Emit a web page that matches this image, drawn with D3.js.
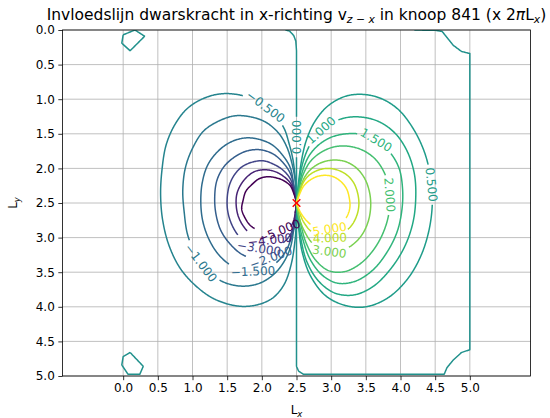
<!DOCTYPE html>
<html>
<head>
<meta charset="utf-8">
<script src="https://cdn.jsdelivr.net/npm/d3@7/dist/d3.min.js"></script>
<style>
body { margin: 0; background: #fff; }
text { font-family: "DejaVu Sans", sans-serif; }
</style>
</head>
<body>
<svg id="chart" width="550" height="418"></svg>
<script>
// contour levels and ticks
var levels = [-5, -4, -3, -2, -1.5, -1, -0.5, 0, 0.5, 1, 1.5, 2, 3, 4, 5];
var xTicks = [0, 0.5, 1, 1.5, 2, 2.5, 3, 3.5, 4, 4.5, 5];
var yTicks = [0, 0.5, 1, 1.5, 2, 2.5, 3, 3.5, 4, 4.5, 5];
var loadPoint = [2.5, 2.5];

// contour lines, [Lx, Ly]
var lineM5 = [[2.5,2.49],[2.46,2.36],[2.41,2.25],[2.32,2.18],[2.22,2.14],[2.09,2.12],[1.96,2.15],[1.86,2.23],[1.77,2.33],[1.73,2.46],[1.71,2.59],[1.76,2.72],[1.84,2.83],[1.97,2.90],[2.12,2.93],[2.26,2.90],[2.38,2.83],[2.46,2.72],[2.5,2.51]];
var lineM4 = [[2.5,2.49],[2.46,2.33],[2.41,2.21],[2.32,2.12],[2.20,2.05],[2.06,2.02],[1.91,2.04],[1.80,2.11],[1.70,2.23],[1.64,2.37],[1.63,2.53],[1.66,2.69],[1.73,2.83],[1.84,2.95],[1.99,3.02],[2.15,3.03],[2.29,2.98],[2.39,2.88],[2.46,2.75],[2.5,2.51]];
var lineM3 = [[2.5,2.49],[2.46,2.30],[2.41,2.15],[2.30,2.02],[2.17,1.94],[2.02,1.89],[1.86,1.91],[1.71,1.98],[1.60,2.10],[1.53,2.25],[1.50,2.44],[1.51,2.63],[1.57,2.82],[1.67,2.98],[1.81,3.09],[1.99,3.16],[2.16,3.15],[2.30,3.08],[2.41,2.96],[2.46,2.80],[2.5,2.51]];
var lineM2 = [[2.5,2.49],[2.46,2.25],[2.41,2.07],[2.30,1.91],[2.16,1.79],[1.97,1.73],[1.78,1.75],[1.60,1.84],[1.45,1.98],[1.35,2.18],[1.32,2.43],[1.34,2.67],[1.41,2.90],[1.54,3.09],[1.71,3.24],[1.91,3.31],[2.12,3.29],[2.28,3.21],[2.39,3.06],[2.46,2.86],[2.5,2.51]];
var lineM15 = [[2.5,2.49],[2.46,2.23],[2.41,1.99],[2.30,1.81],[2.15,1.66],[1.96,1.58],[1.76,1.56],[1.55,1.62],[1.37,1.75],[1.22,1.95],[1.14,2.21],[1.12,2.50],[1.15,2.77],[1.24,3.03],[1.38,3.25],[1.57,3.41],[1.80,3.48],[2.02,3.47],[2.20,3.37],[2.35,3.19],[2.43,2.98],[2.48,2.75],[2.5,2.51]];
var lineM1 = [[2.5,2.49],[2.48,2.17],[2.43,1.91],[2.36,1.69],[2.25,1.50],[2.07,1.34],[1.86,1.26],[1.61,1.24],[1.37,1.32],[1.16,1.46],[1.01,1.69],[0.90,1.98],[0.86,2.31],[0.88,2.63],[0.93,2.96],[1.05,3.25],[1.21,3.47],[1.42,3.63],[1.68,3.70],[1.94,3.67],[2.15,3.55],[2.30,3.38],[2.41,3.15],[2.46,2.89],[2.5,2.63],[2.5,2.51]];
var lineM05 = [[2.5,2.49],[2.49,2.24],[2.45,1.88],[2.39,1.63],[2.32,1.42],[2.15,1.18],[1.94,1.04],[1.73,0.95],[1.44,0.92],[1.18,0.98],[0.93,1.13],[0.75,1.36],[0.62,1.66],[0.56,2.02],[0.54,2.38],[0.57,2.75],[0.66,3.11],[0.82,3.44],[1.05,3.70],[1.32,3.89],[1.66,3.99],[1.94,3.97],[2.16,3.87],[2.32,3.68],[2.42,3.40],[2.48,3.03],[2.5,2.67],[2.5,2.51]];
var lineP05 = [[2.5,2.49],[2.53,2.2],[2.57,1.9],[2.64,1.6],[2.76,1.33],[2.95,1.10],[3.2,0.96],[3.45,0.93],[3.72,0.99],[3.97,1.15],[4.18,1.42],[4.34,1.75],[4.43,2.1],[4.46,2.45],[4.42,2.85],[4.30,3.25],[4.10,3.6],[3.82,3.87],[3.50,4.0],[3.20,3.98],[2.92,3.84],[2.70,3.55],[2.58,3.2],[2.53,2.85],[2.5,2.51]];
var lineP1 = [[2.5,2.49],[2.53,2.25],[2.57,2.0],[2.65,1.75],[2.78,1.52],[2.96,1.37],[3.2,1.27],[3.45,1.26],[3.7,1.33],[3.93,1.5],[4.1,1.76],[4.2,2.08],[4.22,2.42],[4.18,2.78],[4.06,3.13],[3.86,3.45],[3.6,3.71],[3.32,3.83],[3.05,3.8],[2.82,3.63],[2.65,3.35],[2.56,3.0],[2.52,2.7],[2.5,2.51]];
var lineP15 = [[2.5,2.49],[2.54,2.25],[2.59,2.03],[2.68,1.82],[2.82,1.66],[3.0,1.55],[3.22,1.50],[3.45,1.51],[3.67,1.6],[3.85,1.77],[3.98,2.0],[4.03,2.3],[4.02,2.6],[3.95,2.92],[3.80,3.22],[3.60,3.47],[3.35,3.63],[3.10,3.66],[2.88,3.55],[2.70,3.32],[2.59,3.02],[2.53,2.75],[2.5,2.51]];
var lineP2 = [[2.5,2.49],[2.54,2.28],[2.60,2.08],[2.70,1.9],[2.85,1.77],[3.04,1.69],[3.25,1.68],[3.46,1.74],[3.64,1.87],[3.77,2.07],[3.84,2.32],[3.84,2.6],[3.77,2.88],[3.63,3.15],[3.43,3.37],[3.20,3.49],[2.97,3.48],[2.78,3.33],[2.64,3.08],[2.56,2.8],[2.5,2.51]];
var lineP3 = [[2.5,2.49],[2.55,2.3],[2.61,2.14],[2.71,2.01],[2.85,1.92],[3.02,1.88],[3.2,1.9],[3.36,1.99],[3.48,2.14],[3.55,2.33],[3.57,2.55],[3.53,2.78],[3.43,2.98],[3.27,3.13],[3.08,3.2],[2.88,3.18],[2.72,3.07],[2.61,2.9],[2.54,2.72],[2.5,2.51]];
var lineP4 = [[2.5,2.49],[2.55,2.33],[2.6,2.2],[2.68,2.1],[2.80,2.03],[2.94,2.0],[3.08,2.02],[3.22,2.09],[3.32,2.2],[3.38,2.35],[3.40,2.52],[3.37,2.68],[3.29,2.83],[3.16,2.94],[3.0,3.0],[2.84,2.98],[2.70,2.9],[2.6,2.77],[2.54,2.63],[2.5,2.51]];
var lineP5 = [[2.5,2.49],[2.55,2.36],[2.6,2.26],[2.68,2.18],[2.79,2.12],[2.91,2.1],[3.03,2.12],[3.14,2.19],[3.22,2.29],[3.26,2.42],[3.27,2.56],[3.23,2.69],[3.15,2.79],[3.03,2.86],[2.89,2.88],[2.75,2.84],[2.64,2.75],[2.56,2.64],[2.5,2.51]];

// zero level: load column and the edge-following loop, plus corner pieces
var zeroTop = [[2.5,2.49],[2.5,1.2],[2.5,0.3],[2.49,0.16],[2.46,0.08],[2.40,0.015],[2.34,0.0]];
var zeroRight = [[4.2,0.0],[4.5,0.005],[4.6,0.02],[4.68,0.12],[4.76,0.22],[4.88,0.31],[5.0,0.34],[5.0,4.62],[4.88,4.66],[4.76,4.77],[4.67,4.88],[4.63,4.975],[2.6,4.975],[2.53,4.93],[2.5,4.86],[2.5,2.51]];
var zeroCornerTop = [[0.0,0.07],[0.17,0.0],[0.31,0.09],[0.1,0.30],[-0.02,0.19],[0.0,0.07]];
var zeroCornerBottom = [[0.1,4.66],[0.29,4.86],[0.24,4.975],[0.07,4.975],[-0.02,4.84],[0.0,4.72],[0.1,4.66]];

// where the inline labels sit, [Lx, Ly]
var labelM5 = [2.23,2.85], labelM4 = [2.12,2.97], labelM3 = [1.97,3.13], labelM2 = [2.13,3.28];
var labelM15 = [1.87,3.46], labelM1 = [1.11,3.37], labelM05 = [2.06,1.10], labelZero = [2.5,1.55];
var labelP05 = [4.44,2.24], labelP1 = [2.86,1.45], labelP15 = [3.63,1.63], labelP2 = [3.85,2.38];
var labelP3 = [2.98,3.14], labelP4 = [2.98,2.99], labelP5 = [2.98,2.87];

var contours = [
    {level: -0.5, pts: lineM05, label: labelM05, smooth: true},
    {level: -1, pts: lineM1, label: labelM1, smooth: true},
    {level: -1.5, pts: lineM15, label: labelM15, smooth: true},
    {level: -2, pts: lineM2, label: labelM2, smooth: true},
    {level: -3, pts: lineM3, label: labelM3, smooth: true},
    {level: -4, pts: lineM4, label: labelM4, smooth: true},
    {level: -5, pts: lineM5, label: labelM5, smooth: true},
    {level: 0, pts: zeroTop, label: labelZero, smooth: false},
    {level: 0, pts: zeroRight, label: null, smooth: false},
    {level: 0, pts: zeroCornerTop, label: null, smooth: false},
    {level: 0, pts: zeroCornerBottom, label: null, smooth: false},
    {level: 0.5, pts: lineP05, label: labelP05, smooth: true},
    {level: 1, pts: lineP1, label: labelP1, smooth: true},
    {level: 1.5, pts: lineP15, label: labelP15, smooth: true},
    {level: 2, pts: lineP2, label: labelP2, smooth: true},
    {level: 3, pts: lineP3, label: labelP3, smooth: true},
    {level: 4, pts: lineP4, label: labelP4, smooth: true},
    {level: 5, pts: lineP5, label: labelP5, smooth: true}
];

var margin = {top: 30, left: 62.5, width: 468, height: 346};
var svg = d3.select("#chart");

var x = d3.scaleLinear().domain([-0.875, 5.875]).range([margin.left, margin.left + margin.width]);
var y = d3.scaleLinear().domain([0, 5]).range([margin.top, margin.top + margin.height]);
var color = d3.scaleSequential(d3.interpolateViridis).domain([d3.min(levels), d3.max(levels)]);
var fmt = d3.format(".3f");

svg.append("clipPath").attr("id", "plotclip")
    .append("rect")
    .attr("x", margin.left).attr("y", margin.top)
    .attr("width", margin.width).attr("height", margin.height);

// grid
var grid = svg.append("g").attr("stroke", "#b0b0b0").attr("stroke-width", 0.8);
grid.selectAll("line.gx").data(xTicks).enter().append("line")
    .attr("x1", function(d) { return x(d); }).attr("x2", function(d) { return x(d); })
    .attr("y1", margin.top).attr("y2", margin.top + margin.height);
grid.selectAll("line.gy").data(yTicks).enter().append("line")
    .attr("y1", function(d) { return y(d); }).attr("y2", function(d) { return y(d); })
    .attr("x1", margin.left).attr("x2", margin.left + margin.width);

var lines = svg.append("g").attr("clip-path", "url(#plotclip)").attr("fill", "none").attr("stroke-width", 1.5);
var labels = svg.append("g").attr("font-size", "12px").attr("text-anchor", "middle");

function samplePath(pxPts, curve) {
    var tmp = lines.append("path").attr("d", d3.line().curve(curve)(pxPts));
    var node = tmp.node();
    var total = node.getTotalLength();
    var out = [];
    for (var s = 0; s < total; s += 0.75) {
        var p = node.getPointAtLength(s);
        out.push([p.x, p.y, s]);
    }
    var pe = node.getPointAtLength(total);
    out.push([pe.x, pe.y, total]);
    tmp.remove();
    return out;
}

function atLength(smp, s) {
    var i = d3.bisector(function(d) { return d[2]; }).left(smp, s);
    return smp[Math.max(0, Math.min(smp.length - 1, i))];
}

function drawContour(c) {
    var col = color(c.level);
    var pxPts = c.pts.map(function(d) { return [x(d[0]), y(d[1])]; });
    var smp = samplePath(pxPts, c.smooth ? d3.curveCatmullRom.alpha(0.5) : d3.curveLinear);
    var cut = null;
    if (c.label) {
        var lx = x(c.label[0]), ly = y(c.label[1]);
        var best = d3.minIndex(smp, function(p) { return (p[0] - lx) * (p[0] - lx) + (p[1] - ly) * (p[1] - ly); });
        var t = labels.append("text")
            .attr("fill", col)
            .attr("dy", "0.36em")
            .text(fmt(c.level));
        var w = t.node().getComputedTextLength();
        var s0 = smp[best][2];
        cut = [s0 - w / 2 - 3, s0 + w / 2 + 3];
        var pa = atLength(smp, cut[0]), pb = atLength(smp, cut[1]);
        var ang = Math.atan2(pb[1] - pa[1], pb[0] - pa[0]) * 180 / Math.PI;
        if (ang > 90) ang -= 180;
        if (ang < -90) ang += 180;
        t.attr("transform", "translate(" + smp[best][0] + "," + smp[best][1] + ") rotate(" + ang + ")");
    }
    var segs = [[]];
    smp.forEach(function(p) {
        if (cut && p[2] > cut[0] && p[2] < cut[1]) {
            if (segs[segs.length - 1].length) segs.push([]);
        } else {
            segs[segs.length - 1].push([p[0], p[1]]);
        }
    });
    segs.forEach(function(s) {
        if (s.length < 2) return;
        lines.append("path").attr("d", d3.line()(s)).attr("stroke", col);
    });
}

contours.forEach(drawContour);

// load point marker
var mk = svg.append("g").attr("stroke", "red").attr("stroke-width", 1.5);
mk.append("line").attr("x1", x(loadPoint[0]) - 3.8).attr("x2", x(loadPoint[0]) + 3.8)
    .attr("y1", y(loadPoint[1]) - 3.8).attr("y2", y(loadPoint[1]) + 3.8);
mk.append("line").attr("x1", x(loadPoint[0]) - 3.8).attr("x2", x(loadPoint[0]) + 3.8)
    .attr("y1", y(loadPoint[1]) + 3.8).attr("y2", y(loadPoint[1]) - 3.8);

// axes
var xAxis = svg.append("g")
    .attr("transform", "translate(0," + (margin.top + margin.height) + ")")
    .call(d3.axisBottom(x).tickValues(xTicks).tickFormat(d3.format(".1f")).tickSize(4.2).tickPadding(3.5));
var yAxis = svg.append("g")
    .attr("transform", "translate(" + margin.left + ",0)")
    .call(d3.axisLeft(y).tickValues(yTicks).tickFormat(d3.format(".1f")).tickSize(4.2).tickPadding(3.5));
[xAxis, yAxis].forEach(function(a) {
    a.select(".domain").remove();
    a.selectAll("text").attr("font-size", "12px").attr("font-family", "DejaVu Sans").attr("fill", "#000");
    a.selectAll("line").attr("stroke", "#000").attr("stroke-width", 0.8);
});

svg.append("rect")
    .attr("x", margin.left).attr("y", margin.top)
    .attr("width", margin.width).attr("height", margin.height)
    .attr("fill", "none").attr("stroke", "#000").attr("stroke-width", 0.8);

// title and axis labels
var title = svg.append("text")
    .attr("x", margin.left + margin.width / 2).attr("y", 20)
    .attr("text-anchor", "middle").attr("font-size", "15.5px");
title.append("tspan").text("Invloedslijn dwarskracht in x-richting v");
title.append("tspan").attr("dy", 3.2).attr("font-size", "10.8px").attr("font-style", "italic").text("z \u2212 x");
title.append("tspan").attr("dy", -3.2).text(" in knoop 841 (x 2");
title.append("tspan").attr("font-style", "italic").text("\u03c0");
title.append("tspan").text("L");
title.append("tspan").attr("dy", 3.2).attr("font-size", "10.8px").attr("font-style", "italic").text("x");
title.append("tspan").attr("dy", -3.2).text(")");

var xl = svg.append("text")
    .attr("x", margin.left + margin.width / 2).attr("y", 414)
    .attr("text-anchor", "middle").attr("font-size", "12px");
xl.append("tspan").text("L");
xl.append("tspan").attr("dy", 2.5).attr("font-size", "8.5px").attr("font-style", "italic").text("x");

var yl = svg.append("text")
    .attr("transform", "translate(17," + (margin.top + margin.height / 2) + ") rotate(-90)")
    .attr("text-anchor", "middle").attr("font-size", "12px");
yl.append("tspan").text("L");
yl.append("tspan").attr("dy", 2.5).attr("font-size", "8.5px").attr("font-style", "italic").text("y");
</script>
</body>
</html>
